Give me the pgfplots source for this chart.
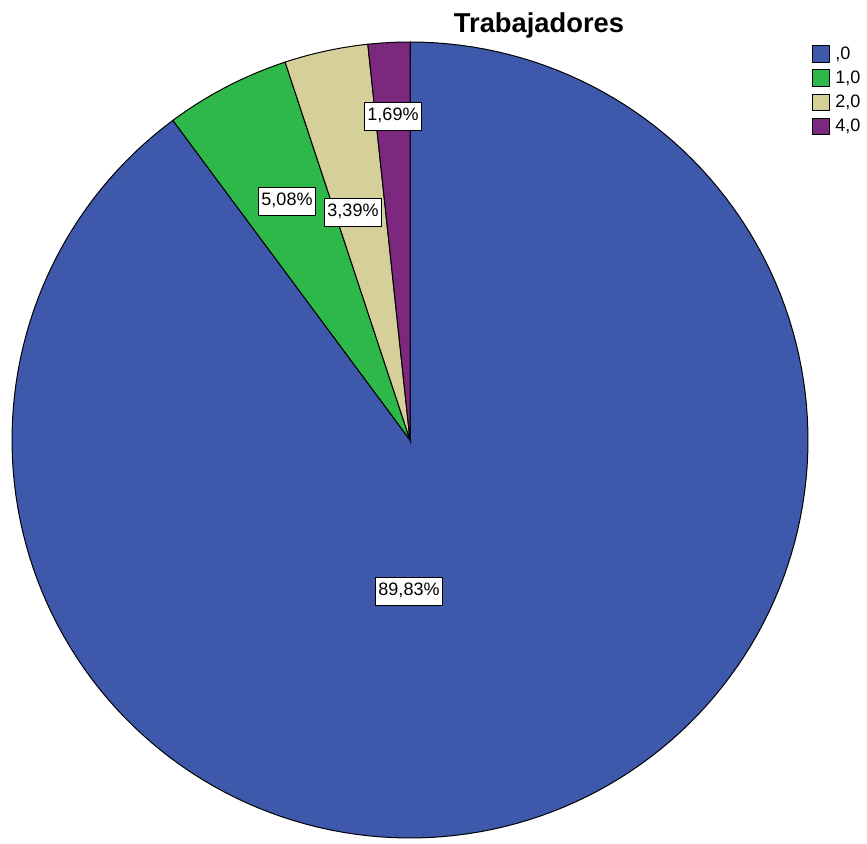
\documentclass[border=0pt]{standalone}
\usepackage{pgfplots}
\pgfplotsset{compat=1.18}
\usepackage{fontspec}
\setmainfont{Liberation Sans}
\definecolor{cBlue}{RGB}{62,88,172}
\definecolor{cGreen}{RGB}{46,184,74}
\definecolor{cBeige}{RGB}{213,207,154}
\definecolor{cPurple}{RGB}{124,40,127}
% percentages of each category
\def\pA{89.83}\def\pB{5.08}\def\pC{3.39}\def\pD{1.69}
\pgfmathsetmacro{\aD}{90}
\pgfmathsetmacro{\aC}{90+3.6*\pD}
\pgfmathsetmacro{\aB}{\aC+3.6*\pC}
\pgfmathsetmacro{\aA}{\aB+3.6*\pB}
\pgfmathsetmacro{\aE}{\aA+3.6*\pA}
\def\cx{410}\def\cy{403}\def\rr{398}
\begin{document}
\begin{tikzpicture}
\begin{axis}[
  scale only axis, width=650.25pt, height=632.25pt,
  xmin=0, xmax=867, ymin=0, ymax=843,
  hide axis, clip=false,
  samples=180, variable=\t,
  legend cell align=left,
  legend image code/.code={\draw[#1,draw=black,line width=0.7pt] (0pt,-6.3pt) rectangle (12.6pt,6.3pt);},
  legend style={at={(axis cs:812,843-45)}, anchor=north west, draw=none, fill=none,
    inner sep=0pt, row sep=4.8pt, font=\fontsize{13.5}{14}\selectfont,
    nodes={inner sep=0.5pt},
    /tikz/every odd column/.append style={column sep=3.5pt}},
]
\path (axis cs:0,0) rectangle (axis cs:867,843);
\addplot[fill=cBlue, draw=black, line width=0.75pt, domain=\aA:\aE]
  ({\cx+\rr*cos(\t)},{\cy+\rr*sin(\t)}) -- (axis cs:\cx,\cy) -- cycle;
\addlegendentry{,0}
\addplot[fill=cGreen, draw=black, line width=0.75pt, domain=\aB:\aA]
  ({\cx+\rr*cos(\t)},{\cy+\rr*sin(\t)}) -- (axis cs:\cx,\cy) -- cycle;
\addlegendentry{1,0}
\addplot[fill=cBeige, draw=black, line width=0.75pt, domain=\aC:\aB]
  ({\cx+\rr*cos(\t)},{\cy+\rr*sin(\t)}) -- (axis cs:\cx,\cy) -- cycle;
\addlegendentry{2,0}
\addplot[fill=cPurple, draw=black, line width=0.75pt, domain=\aD:\aC]
  ({\cx+\rr*cos(\t)},{\cy+\rr*sin(\t)}) -- (axis cs:\cx,\cy) -- cycle;
\addlegendentry{4,0}
\tikzset{lbl/.style={draw=black, fill=white, line width=0.5pt, inner xsep=2.4pt,
  text height=10pt, text depth=2.8pt, inner ysep=4pt, font=\fontsize{13.5}{14}\selectfont}}
\node[lbl] at (axis cs:409,843-591) {89,83\%};
\node[lbl] at (axis cs:287,843-201) {5,08\%};
\node[lbl] at (axis cs:353,843-212) {3,39\%};
\node[lbl] at (axis cs:393,843-116) {1,69\%};
\node[font=\fontsize{20.5}{22}\bfseries\selectfont] at (axis cs:539,843-25) {Trabajadores};
\end{axis}
\end{tikzpicture}
\end{document}
